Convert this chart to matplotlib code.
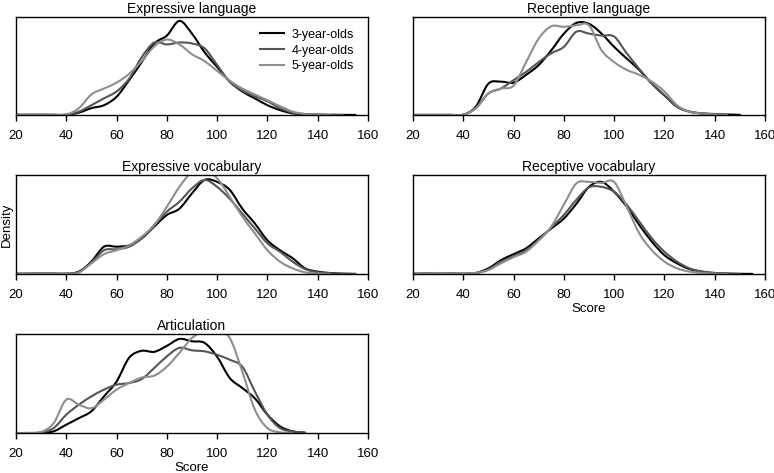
import numpy as np
import matplotlib
matplotlib.use('Agg')
import matplotlib.pyplot as plt
from matplotlib.path import Path
from matplotlib.patches import PathPatch
from matplotlib.lines import Line2D

plt.rcParams['font.family'] = ['Liberation Sans', 'DejaVu Sans']
plt.rcParams['font.size'] = 9.5

# score grid (every 5 points) and density (0-100 = axis height)
score = np.arange(20, 161, 5)
groups = ['3-year-olds', '4-year-olds', '5-year-olds']
nan = np.nan

# Expressive language
el_3 = [0.2, 0.3, 0.3, 0.2, 0.2, 2.4, 7, 10, 18.6, 35.6, 54, 73, 81, 96, 83, 64, 49, 34, 24, 17, 10, 5, 1.7, 0.7, 0.3, 0.2, 0.1, 0.1, nan]
el_4 = [0.1, 0.1, 0.1, 0.2, 0.3, 3.4, 10, 17, 24, 37, 59, 74, 72, 74, 73, 68, 51, 34, 25, 19, 14, 7, 2.4, 1, 0.3, 0.1, 0.1, nan, nan]
el_5 = [0.1, 0.1, 0.1, 0.2, 0.5, 7, 21, 27, 33, 42, 55, 70, 77, 72, 62, 55, 45, 35, 27, 21, 15, 9, 3.5, 1, 0.3, 0.1, nan, nan, nan]

# Receptive language
rl_3 = [0.1, 0.1, 0.1, 0.1, 0.3, 8.5, 32, 34, 33, 41, 51, 66, 83, 94, 93, 83, 69.5, 57.6, 46, 32, 20, 8.5, 3.4, 1.7, 1, 0.5, 0.2, nan, nan]
rl_4 = [0.1, 0.1, 0.1, 0.1, 0.3, 7, 22, 27, 35.6, 44, 54, 63, 69.5, 85, 83, 81, 80, 63, 47, 32, 20, 8.5, 3.4, 1.5, 0.7, 0.3, nan, nan, nan]
rl_5 = [0.1, 0.1, 0.1, 0.1, 0.3, 7, 22, 27, 30, 54, 78, 90.5, 90, 91.5, 91.5, 66, 54, 46, 41, 34, 24, 10, 3.4, 1.5, 0.5, 0.2, nan, nan, nan]

# Expressive vocabulary
ev_3 = [0.3, 0.3, 0.7, 0.5, 0.3, 2.4, 12.5, 27.6, 27.6, 29, 36, 48, 59.6, 66, 81.5, 95, 93, 85, 66, 51, 34, 24, 16, 5.7, 2.4, 1, 0.3, 0.1, nan]
ev_4 = [0.3, 0.3, 0.7, 0.5, 0.3, 2, 11.4, 24, 25, 27.6, 36, 49.5, 63, 73, 86.5, 95, 88, 76, 61, 46, 31, 22.5, 12.5, 5, 1.7, 0.7, 0.3, 0.1, nan]
ev_5 = [0.3, 0.3, 0.7, 0.5, 0.3, 1.5, 10.8, 20, 24, 29, 37.7, 49.5, 68, 88, 103, 104, 96.6, 78, 58, 41, 24, 12.5, 5.7, 1.7, 0.5, 0.1, nan, nan, nan]

# Receptive vocabulary
rv_3 = [0.2, 0.5, 1, 0.5, 0.3, 1, 5.7, 14, 20, 26, 36, 46, 56, 71, 88, 93, 83, 68, 49.5, 32.7, 19, 10.8, 5, 2.4, 1, 0.5, 0.2, 0.1, nan]
rv_4 = [0.2, 0.5, 1, 0.5, 0.3, 1, 4.5, 12.5, 18, 24, 34, 47, 59.6, 75, 87.5, 88, 83, 70, 53, 36, 22.5, 12.5, 5.7, 2.4, 1, 0.3, 0.1, nan, nan]
rv_5 = [0.2, 0.5, 1, 0.5, 0.3, 1, 4, 10.8, 17, 22.5, 34, 48, 70, 91.6, 93, 92, 93, 68, 41, 24, 12.5, 5.7, 2.4, 1, 0.3, 0.1, nan, nan, nan]

# Articulation
ar_3 = [0, 0, 0.3, 1.7, 8.4, 15, 22, 37, 52, 76, 83, 82, 88, 95, 92.6, 91, 77, 55.6, 45.5, 35, 18.5, 6.7, 1.7, 0.3, nan, nan, nan, nan, nan]
ar_4 = [0, 0, 0.5, 5, 18.5, 28.6, 37, 43.8, 48.8, 50.5, 54.5, 65.7, 77.4, 86, 83.5, 82.5, 79, 74, 67, 42, 18.5, 5, 1.5, 0.3, nan, nan, nan, nan, nan]
ar_5 = [0, 0, 1, 10, 33.7, 28.6, 25, 33.7, 43.8, 50.5, 56, 58, 67, 81, 96, 103, 103, 96, 62, 23.6, 5, 0.7, 0, nan, nan, nan, nan, nan, nan]

titles = ['Expressive language', 'Receptive language', 'Expressive vocabulary',
          'Receptive vocabulary', 'Articulation']
data = [[el_3, el_4, el_5], [rl_3, rl_4, rl_5], [ev_3, ev_4, ev_5],
        [rv_3, rv_4, rv_5], [ar_3, ar_4, ar_5]]
colors = ['#000000', '#555555', '#8e8e8e']
lw = 1.5


def smooth_path(x, y):
    # catmull-rom through the read points, drawn as cubic bezier segments
    ok = ~np.isnan(y)
    x = np.asarray(x, float)[ok]
    y = np.asarray(y, float)[ok]
    p = np.column_stack([x, y])
    verts = [p[0]]
    codes = [Path.MOVETO]
    for k in range(len(p)-1):
        p0 = p[k-1] if k > 0 else p[k]
        p3 = p[k+2] if k+2 < len(p) else p[k+1]
        c1 = p[k] + (p[k+1]-p0)/6.
        c2 = p[k+1] - (p3-p[k])/6.
        verts += [c1, c2, p[k+1]]
        codes += [Path.CURVE4]*3
    return Path(verts, codes)


fig = plt.figure(figsize=(7.74, 4.73), dpi=100)
W, H = 774., 473.
# axes boxes in pixels: left, top, right, bottom
boxes = [(16, 17, 368, 115), (413, 17, 765, 115),
         (16, 175, 368, 274), (413, 175, 765, 274),
         (16, 334, 368, 433)]

axs = []
for i, (l, t, r, b) in enumerate(boxes):
    ax = fig.add_axes([l/W, 1-b/H, (r-l)/W, (b-t)/H])
    for j in range(3):
        pp = PathPatch(smooth_path(score, np.array(data[i][j], float)), fill=False,
                       edgecolor=colors[j], lw=lw, joinstyle='round', capstyle='round')
        ax.add_patch(pp)
    ax.set_xlim(20, 160)
    ax.set_ylim(0, 100)
    ax.set_xticks(np.arange(20, 161, 20))
    ax.set_yticks([])
    ax.set_title(titles[i], fontsize=10, pad=3)
    ax.tick_params(axis='x', direction='out', length=4, width=1, labelsize=9.5, pad=7)
    for s in ax.spines.values():
        s.set_linewidth(1)
    axs.append(ax)

handles = [Line2D([], [], color=c, lw=lw) for c in colors]
axs[0].legend(handles, groups, loc='upper right', frameon=False, fontsize=9,
              handlelength=1.9, handletextpad=0.65, labelspacing=0.3,
              borderaxespad=0.0, bbox_to_anchor=(0.975, 0.93))
axs[2].set_ylabel('Density', fontsize=9.5, labelpad=2)
axs[3].set_xlabel('Score', fontsize=9.5, labelpad=1)
axs[4].set_xlabel('Score', fontsize=9.5, labelpad=1)

plt.savefig('out.png', dpi=100)
